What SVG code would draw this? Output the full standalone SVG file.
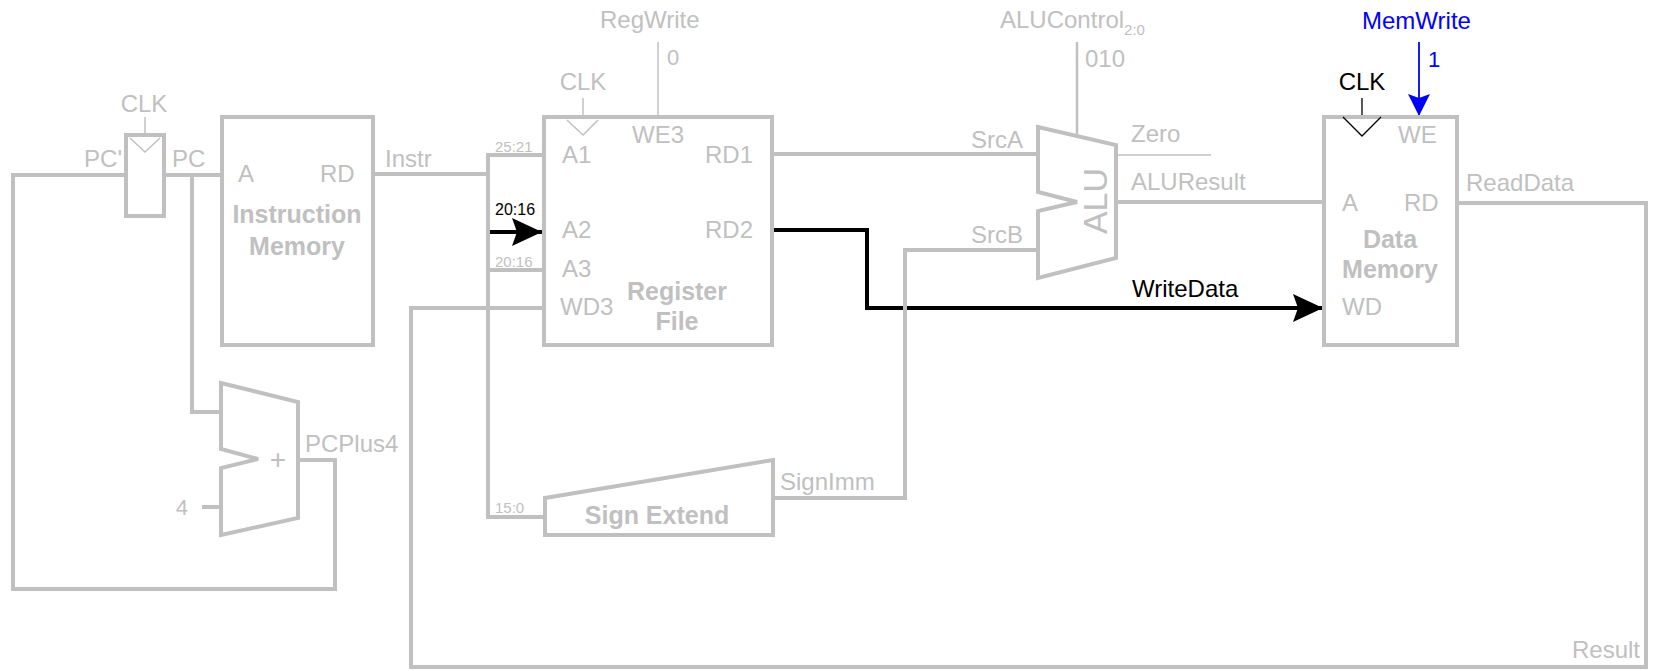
<svg xmlns="http://www.w3.org/2000/svg" width="1655" height="671" viewBox="0 0 1655 671">
<style>
  .w{fill:none;stroke:#c0c0c0;stroke-width:4;stroke-linejoin:miter}
  .blk{fill:none;stroke:#000;stroke-width:4;stroke-linejoin:miter}
  .thin{fill:none;stroke:#c0c0c0;stroke-width:1.5}
  .box{fill:#fff;stroke:#c0c0c0;stroke-width:4}
  text{font-family:"Liberation Sans",Arial,sans-serif;font-size:24px;fill:#c0c0c0}
  .b{font-weight:bold;font-size:25px}
  .m{text-anchor:middle}
  .e{text-anchor:end}
  .s{font-size:15px}
  .k{fill:#000}
  .bl{fill:#0000ff}
</style>
<defs>
  <marker id="ab" markerUnits="userSpaceOnUse" viewBox="0 0 30 28" markerWidth="30" markerHeight="28" refX="30" refY="14" orient="auto">
    <path d="M0,0 L30,14 L0,28 L5,14 Z" fill="#000"/>
  </marker>
  <marker id="ablue" markerUnits="userSpaceOnUse" viewBox="0 0 22 22" markerWidth="22" markerHeight="22" refX="22" refY="11" orient="auto">
    <path d="M0,0 L22,11 L0,22 L4,11 Z" fill="#0000ff"/>
  </marker>
</defs>

<g id="connectors">
  <path class="w" d="M298,460 H335 V589 H13 V175 H126"/>
  <path class="w" d="M164,175 H222"/>
  <path class="w" d="M192,175 V412 H221"/>
  <path class="w" d="M202,507 H221"/>
  <path class="w" d="M373,174 H488"/>
  <path class="w" d="M544,155 H488 V517 H545"/>
  <path class="w" d="M488,270 H544"/>
  <path class="blk" d="M490,232 H542" marker-end="url(#ab)"/>
  <path class="thin" d="M658,42 V117"/>
  <path class="thin" d="M583,98 V117"/>
  <path class="w" d="M772,154 H1038"/>
  <path class="blk" d="M772,230 H867 V308 H1323" marker-end="url(#ab)"/>
  <path class="w" d="M1038,250 H905 V498 H773"/>
  <path class="thin" style="stroke-width:2.5" d="M1077,42 V136"/>
  <path class="thin" d="M1116,155 H1211"/>
  <path class="w" d="M1116,202 H1324"/>
  <path class="w" d="M1457,203 H1646 V667 H411 V308 H544"/>
  <path fill="none" stroke="#0000ff" stroke-width="1.8" d="M1419,42 V116" marker-end="url(#ablue)"/>
  <path fill="none" stroke="#000" stroke-width="1.3" d="M1362,98 V117"/>
</g>

<g id="pc-register">
  <rect class="box" x="126" y="135" width="38" height="81"/>
  <path class="thin" d="M130,138 L145,152 L160,138"/>
  <path class="thin" d="M145,117 V135"/>
  <text class="m" x="144" y="112">CLK</text>
  <text class="e" x="122" y="167">PC'</text>
  <text x="172" y="167">PC</text>
</g>

<g id="instruction-memory">
  <rect class="box" x="222" y="117" width="151" height="228"/>
  <text x="238" y="182">A</text>
  <text x="320" y="182">RD</text>
  <text class="b m" x="297" y="223">Instruction</text>
  <text class="b m" x="297" y="255">Memory</text>
  <text x="385" y="167">Instr</text>
</g>

<g id="adder">
  <polygon class="box" points="221,383 298,402 298,518 221,535 221,468 258,459 221,449"/>
  <text class="m" x="278" y="469" style="font-size:28px">+</text>
  <text class="e" x="188" y="515" style="font-size:22px">4</text>
  <text x="305" y="452">PCPlus4</text>
</g>

<g id="register-file">
  <rect class="box" x="544" y="117" width="228" height="228"/>
  <path class="thin" d="M567,120 L583,135 L598,120"/>
  <text class="m" x="583" y="90">CLK</text>
  <text x="600" y="28">RegWrite</text>
  <text x="667" y="65" style="font-size:22px">0</text>
  <text x="632" y="143">WE3</text>
  <text x="562" y="163">A1</text>
  <text x="705" y="163">RD1</text>
  <text x="562" y="238">A2</text>
  <text x="705" y="238">RD2</text>
  <text x="562" y="277">A3</text>
  <text x="560" y="315">WD3</text>
  <text class="b m" x="677" y="300">Register</text>
  <text class="b m" x="677" y="330">File</text>
  <text class="s" x="495" y="152">25:21</text>
  <text class="k" x="495" y="215" style="font-size:16px">20:16</text>
  <text class="s" x="495" y="267">20:16</text>
  <text class="s" x="495" y="513">15:0</text>
</g>

<g id="sign-extend">
  <polygon class="box" points="545,498 773,460 773,535 545,535"/>
  <text class="b m" x="657" y="524">Sign Extend</text>
  <text x="780" y="490">SignImm</text>
</g>

<g id="alu">
  <polygon class="box" points="1038,127 1116,145 1116,258 1038,278 1038,211 1077,202 1038,192"/>
  <text class="m" transform="translate(1107,201) rotate(-90)" style="font-size:34px">ALU</text>
  <text class="e" x="1023" y="148">SrcA</text>
  <text class="e" x="1023" y="243">SrcB</text>
  <text x="1000" y="28">ALUControl<tspan dy="7" style="font-size:15px">2:0</tspan></text>
  <text x="1085" y="67">010</text>
  <text x="1131" y="142">Zero</text>
  <text x="1131" y="190">ALUResult</text>
</g>

<g id="data-memory">
  <rect class="box" x="1324" y="117" width="133" height="228"/>
  <path fill="none" stroke="#000" stroke-width="1.3" d="M1343,117 L1362,136 L1381,117"/>
  <text class="m k" x="1362" y="90">CLK</text>
  <text class="bl" x="1362" y="29">MemWrite</text>
  <text class="bl" x="1428" y="67" style="font-size:22px">1</text>
  <text x="1398" y="143">WE</text>
  <text x="1342" y="211">A</text>
  <text x="1404" y="211">RD</text>
  <text class="b m" x="1390" y="248">Data</text>
  <text class="b m" x="1390" y="278">Memory</text>
  <text x="1342" y="315">WD</text>
  <text x="1466" y="191">ReadData</text>
  <text class="k" x="1132" y="297">WriteData</text>
  <text class="e" x="1640" y="658">Result</text>
</g>
</svg>
